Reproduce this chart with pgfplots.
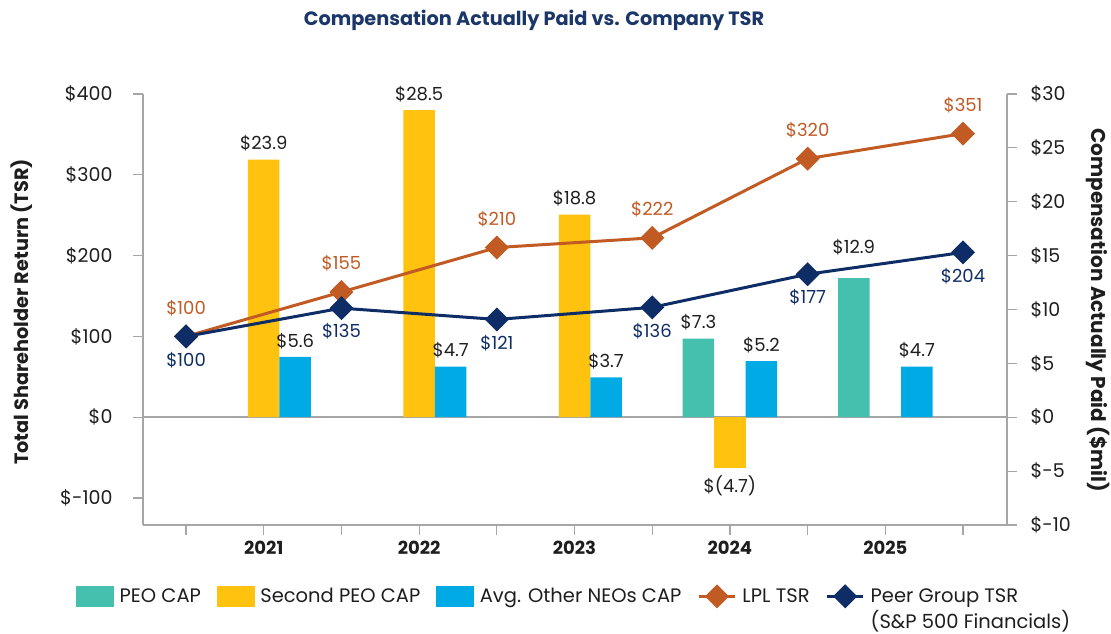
\documentclass[border=0pt]{standalone}
\usepackage{fontspec}
\setmainfont{Poppins}
\usepackage{pgfplots}
\pgfplotsset{compat=1.18}

\definecolor{peo}{RGB}{69,191,174}
\definecolor{second}{RGB}{255,194,14}
\definecolor{neo}{RGB}{0,170,228}
\definecolor{lpl}{RGB}{194,90,36}
\definecolor{peer}{RGB}{14,44,102}
\definecolor{titleblue}{RGB}{27,54,104}
\definecolor{axisgray}{RGB}{166,166,166}
\definecolor{txt}{RGB}{30,30,30}

\pgfplotsset{
  base/.style={
    width=864pt, height=431pt, scale only axis,
    xmin=-0.277, xmax=5.283,
    axis line style={axisgray, line width=1.6pt},
    tick style={axisgray, line width=1.2pt},
    tick align=outside, major tick length=10pt, minor tick length=10pt,
    ticklabel style={font=\fontsize{19}{22}\selectfont, text=txt},
  },
  barlab/.style={
    nodes near coords, point meta=explicit symbolic,
    every node near coord/.append style={font=\fontsize{18}{21}\selectfont, text=txt,
      inner ysep=8pt, anchor=#1},
  },
  barlab/.default=south,
  linelab/.style={
    nodes near coords, point meta=explicit symbolic,
    every node near coord/.append style={font=\fontsize{18}{21}\selectfont, text=#1, inner sep=0pt},
  },
  tsrlegend/.style={
    legend image code/.code={\draw[##1, mark repeat=2, mark phase=2] plot coordinates {(0pt,0pt) (18pt,0pt) (36pt,0pt)};},
  },
  caplegend/.style={
    legend image code/.code={\fill[#1] (0pt,-10pt) rectangle (37pt,10pt);},
  },
}

\begin{document}
\begin{tikzpicture}
\path[use as bounding box] (-143pt,-109pt) rectangle (968pt,525pt);

% CAP bars, right axis ($mil)
\begin{axis}[base,
  ymin=-10, ymax=30,
  axis y line*=right, axis x line=none,
  ytick={-10,-5,...,30},
  yticklabels={\$-10,\$-5,\$0,\$5,\$10,\$15,\$20,\$25,\$30},
  yticklabel style={xshift=10pt},
]
\draw[axisgray, line width=1.6pt] (rel axis cs:0,0.25) -- (rel axis cs:1,0.25);

\addplot[ybar, bar width=31.5pt, bar shift=-31.5pt, fill=peo, draw=none, barlab,
  every node near coord/.append style={xshift=-31.5pt}]
  coordinates {(3.5,7.3) [\$7.3] (4.5,12.9) [\raisebox{17pt}{\$12.9}]};
\addplot[ybar, bar width=31.5pt, bar shift=0pt, fill=second, draw=none, barlab]
  coordinates {(0.5,23.9) [\$23.9] (1.5,28.5) [\$28.5] (2.5,18.8) [\$18.8]};
\addplot[ybar, bar width=31.5pt, bar shift=0pt, fill=second, draw=none, barlab=north]
  coordinates {(3.5,-4.7) [\$(4.7)]};
\addplot[ybar, bar width=31.5pt, bar shift=31.5pt, fill=neo, draw=none, barlab,
  every node near coord/.append style={xshift=31.5pt}]
  coordinates {(0.5,5.6) [\$5.6] (1.5,4.7) [\$4.7] (2.5,3.7) [\$3.7] (3.5,5.2) [\$5.2] (4.5,4.7) [\$4.7]};
\end{axis}

% TSR lines, left axis
\begin{axis}[base,
  ymin=-133.333, ymax=400,
  axis y line*=left, axis x line*=bottom,
  ytick={-100,0,...,400},
  yticklabels={\$-100,\$0,\$100,\$200,\$300,\$400},
  yticklabel style={xshift=-17pt},
  xtick={0.5,1.5,2.5,3.5,4.5},
  xticklabels={2021,2022,2023,2024,2025},
  minor xtick={0,1,2,3,4,5},
  xticklabel style={font=\bfseries\fontsize{18}{21}\selectfont, yshift=-3pt},
  legend columns=5,
  legend cell align=left,
  legend style={draw=none, fill=none, at={(-0.081,-0.135)}, anchor=north west,
    font=\fontsize{19.5}{22}\selectfont, text=txt,
    nodes={inner ysep=3pt, inner xsep=6pt},
    /tikz/every even column/.append style={column sep=10pt}},
]
\addlegendimage{caplegend=peo}
\addlegendentry{PEO CAP}
\addlegendimage{caplegend=second}
\addlegendentry{Second PEO CAP}
\addlegendimage{caplegend=neo}
\addlegendentry{Avg. Other NEOs CAP}

\addplot[lpl, line width=3pt, mark=square*, mark size=7pt, mark options={rotate=45},
  linelab=lpl, every node near coord/.append style={anchor=south, yshift=19pt}, tsrlegend]
  coordinates {(0,100) [\$100] (1,155) [\$155] (2,210) [\$210] (3,222) [\$222] (4,320) [\$320] (5,351) [\$351]};
\addlegendentry{LPL TSR}

\addplot[peer, line width=3pt, mark=square*, mark size=7pt, mark options={rotate=45},
  linelab=peer, every node near coord/.append style={anchor=north, yshift=-14pt}, tsrlegend]
  coordinates {(0,100) [\$100] (1,135) [\$135] (2,121) [\$121] (3,136) [\$136] (4,177) [\$177] (5,204) [\$204]};
\addlegendentry{Peer Group TSR}

\addlegendimage{empty legend}\addlegendentry{}
\addlegendimage{empty legend}\addlegendentry{}
\addlegendimage{empty legend}\addlegendentry{}
\addlegendimage{empty legend}\addlegendentry{}
\addlegendimage{empty legend}\addlegendentry{(S\&P 500 Financials)}
\end{axis}

\node[font=\bfseries\fontsize{19.3}{23}\selectfont, text=titleblue] at (391pt,505pt)
  {Compensation Actually Paid vs. Company TSR};
\node[rotate=90, font=\bfseries\fontsize{19.3}{23}\selectfont, text=txt] at (-121pt,213pt)
  {Total Shareholder Return (TSR)};
\node[rotate=-90, font=\bfseries\fontsize{20}{24}\selectfont, text=txt] at (955pt,215pt)
  {Compensation Actually Paid (\$mil)};
\end{tikzpicture}
\end{document}
